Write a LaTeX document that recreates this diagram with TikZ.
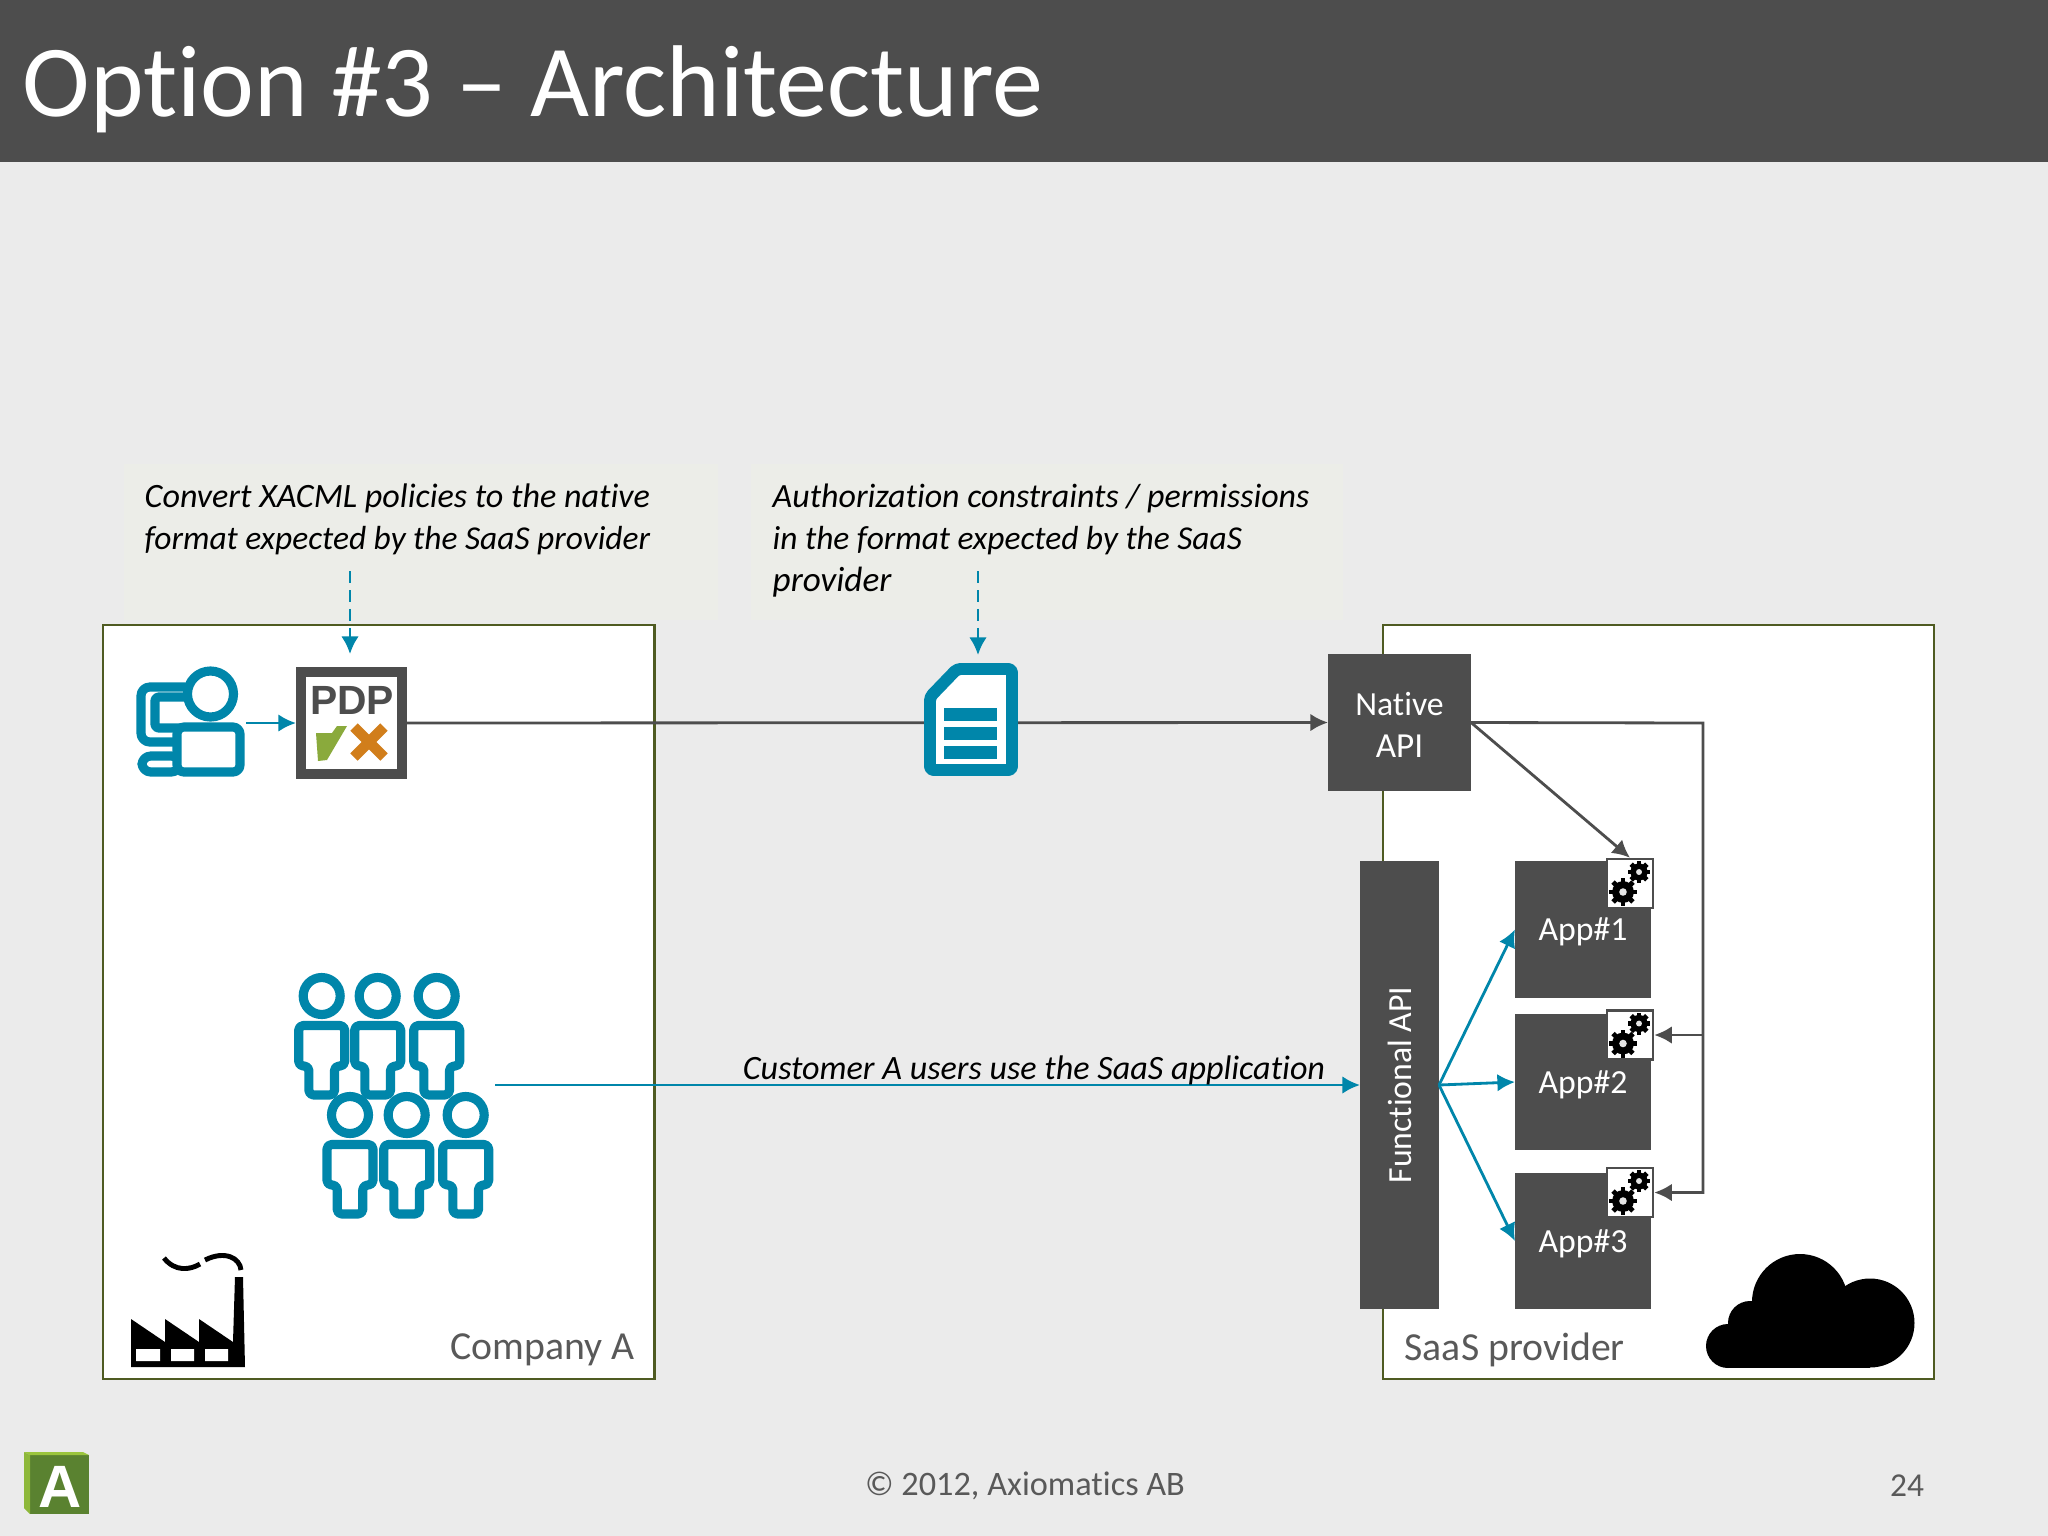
\documentclass[tikz,border=0pt]{standalone}
\usepackage{fontspec}
\setmainfont[Ligatures=NoCommon]{Carlito}
\newfontfamily\pdpfont{Liberation Sans}
\usetikzlibrary{arrows.meta}
\definecolor{slidebg}{HTML}{EBEBEB}
\definecolor{notebg}{HTML}{ECEDE8}
\definecolor{darkbar}{HTML}{4D4D4D}
\definecolor{boxline}{HTML}{4F5B22}
\definecolor{iconblue}{HTML}{0086AA}
\definecolor{labelgrey}{HTML}{595959}
\definecolor{pdpcheck}{HTML}{8AAA3C}
\definecolor{pdpcross}{HTML}{D17E1B}
\definecolor{logodark}{HTML}{5A8230}
\definecolor{logolight}{HTML}{9BC53D}
\newcommand{\txt}[2]{\fontsize{#1}{#2}\selectfont}
\newcommand{\boxtxt}[1]{\raisebox{-0.7pt}[\height][\depth]{#1}}
\tikzset{
  darkbox/.style={fill=darkbar, text=white, inner sep=0, outer sep=0, align=center},
  cogbox/.style={draw=darkbar, fill=white, line width=0.7pt, inner sep=0, minimum width=0.46cm, minimum height=0.49cm},
  wire/.style={draw=darkbar, line width=0.8pt, -{Latex[length=5pt,width=5pt]}},
  bluewire/.style={draw=iconblue, line width=0.8pt, -{Latex[length=5pt,width=5pt]}},
  icon/.style={draw=iconblue, fill=white, line width=2.6pt, line join=round},
  person/.pic={
    \draw[icon] (0,0) circle (18.5);
    \draw[icon, rounded corners=1.3pt] (-23,29.5)--(23,29.5)--(23,70)--(12.8,70)--(12.8,99)--(-12.8,99)--(-12.8,70)--(-23,70)--cycle;
  },
  cogwheel/.pic={
    \foreach \a in {0,45,...,315} \draw[black, line width=1.4pt, rotate=\a] (0,0)--(#1,0);
    \fill[black] (0,0) circle ({#1*0.78});
    \fill[white!80!gray] (0,0) circle ({#1*0.27});
  },
}
\begin{document}
\begin{tikzpicture}[x=0.01cm, y=-0.01cm]
\useasboundingbox (0,0) rectangle (2048,1536);
\fill[slidebg] (0,0) rectangle (2048,1536);
\fill[darkbar] (0,0) rectangle (2048,162);
\node[anchor=west, text=white, inner sep=0] (title) at (22,89) {\txt{29}{33}Option \#3 – Architecture};

% notes above the boxes
\fill[notebg] (124,464) rectangle (718,620);
\fill[notebg] (751,464) rectangle (1343,620);
\node[anchor=north west, align=left, inner sep=0] (note1) at (144,483) {\txt{9.7}{11.6}\itshape Convert XACML policies to the native\\\txt{9.5}{11.6}\itshape format expected by the SaaS provider};
\node[anchor=north west, align=left, inner sep=0] (note2) at (772,483) {\txt{9.65}{11.6}\itshape Authorization constraints / permissions\\\txt{9.5}{11.6}\itshape in the format expected by the SaaS\\\itshape provider};

% the two boxes
\draw[boxline, fill=white, line width=0.8pt] (103,625) rectangle (654.5,1379);
\draw[boxline, fill=white, line width=0.8pt] (1383,625) rectangle (1934,1379);
\node[anchor=east, text=labelgrey, inner sep=0] (company) at (635,1350) {\txt{11.3}{13}Company A};
\node[anchor=west, text=labelgrey, inner sep=0] (saas) at (1404,1350) {\txt{11.3}{13}SaaS provider};

% saas side
\node[darkbox, minimum width=1.43cm, minimum height=1.37cm] (native) at (1399.5,722.5) {\txt{9.6}{11.7}\boxtxt{Native}\\\boxtxt{API}};
\node[darkbox, minimum width=0.79cm, minimum height=4.48cm] (funcapi) at (1399.5,1085) {};
\node[darkbox, rotate=90] (funclabel) at (1400,1085) {\txt{9.6}{11.7}Functional API};
\foreach \n/\y/\h in {1/929.5/1.37,2/1082/1.36,3/1241/1.36}
  \node[darkbox, minimum width=1.36cm, minimum height=\h cm] (app\n) at (1583,\y) {\txt{9.6}{11.7}\boxtxt{App\#\n}};
\foreach \n/\y in {1/883.5,2/1035,3/1192.5} {
  \node[cogbox] (cog\n) at (1630,\y) {};
  \pic at (1623,\y+8.5) {cogwheel=14};
  \pic at (1639,\y-11.5) {cogwheel=11};
}

% connectors
\coordinate (bus) at (1703,723);
\draw[wire] (native.east)--(cog1.north);
\draw[wire] (native.east)--(bus) |- (cog3.east);
\draw[wire] (bus |- cog2.east)--(cog2.east);
\foreach \n in {1,2,3} \draw[bluewire] (funcapi.east)--(app\n.west);

% pdp and the main line
\node[draw=darkbar, fill=white, line width=2.85pt, inner sep=0, minimum size=1.01cm] (pdp) at (351.5,723) {};
\node[text=darkbar, inner sep=0] (pdplabel) at (352,700) {\pdpfont\bfseries\txt{11.6}{13}PDP};
\fill[pdpcheck] (316,733)--(332,733)--(337,726)--(347,726)--(327,760)--(318,761)--cycle;
\draw[pdpcross, line width=3pt] (354,727)--(384,757);
\draw[pdpcross, line width=3pt] (384,727)--(354,757);
\draw[wire] (pdp.east)--(native.west);

% dashed arrows
\coordinate (polfrom) at (350,571);
\coordinate (polto) at (350,654);
\coordinate (docfrom) at (978,571);
\coordinate (docto) at (978,655);
\draw[bluewire, dash pattern=on 3.4pt off 2pt] (polfrom)--(polto);
\draw[bluewire, dash pattern=on 3.4pt off 2pt] (docfrom)--(docto);

% admin icon
\coordinate (adminfrom) at (246,723);
\draw[icon, fill=none, rounded corners=2.5pt] (185,687)--(141,687)--(141,742)--(180,742);
\draw[icon, fill=none, rounded corners=1pt] (185,697)--(155,697)--(155,728)--(180,728);
\draw[icon, rounded corners=2.5pt] (180,756) rectangle (142,772);
\draw[icon] (210.5,694) circle (23);
\draw[icon, rounded corners=2pt] (177,772)--(177,727)--(240,727)--(240,772)--cycle;
\draw[bluewire] (adminfrom)--(pdp.west);

% document icon
\draw[icon, line width=3.4pt, rounded corners=1pt] (930,697)--(957,669)--(1012,669)--(1012,770)--(930,770)--cycle;
\foreach \y in {708,727,746} \fill[iconblue] (944,\y) rectangle (997,\y+12.5);

% users
\foreach \x in {321.7,377.7,436.7} \pic at (\x,996) {person};
\foreach \x in {350,406.7,465.7} \pic at (\x,1115) {person};
\coordinate (usersfrom) at (495,1085);
\draw[bluewire] (usersfrom)--(funcapi.west);
\node[inner sep=0] (userlabel) at (1034,1070) {\txt{9.7}{11.7}\itshape Customer A users use the SaaS application};

% factory
\fill[black] (131,1367)--(131,1319)--(165,1342)--(165,1319)--(199,1342)--(199,1319)--(233,1342)--(235,1277)--(243,1277)--(245,1367)--cycle;
\fill[white] (136,1349) rectangle (160,1361) (171,1349) rectangle (194,1361) (205,1349) rectangle (228,1361);
\draw[black, line width=1.4pt] (164,1258) .. controls (175,1272) and (190,1270) .. (200,1264);
\draw[black, line width=1.4pt] (205,1260) .. controls (225,1250) and (240,1258) .. (241,1270);

% cloud
\foreach \x/\y/\r in {1800/1302/48, 1870/1323/44.5, 1728/1346/22, 1750/1323/22} \fill[black] (\x,\y) circle (\r);
\fill[black] (1728,1323) rectangle (1870,1368);

% logo
\fill[logodark] (30,1455) rectangle (89,1514);
\fill[logolight] (24,1452)--(83,1452)--(89,1455)--(30,1455)--cycle;
\fill[logolight!80!logodark] (24,1452)--(30,1455)--(30,1514)--(24,1508)--cycle;
\node[text=white, inner sep=0] (logoa) at (60,1487) {\pdpfont\bfseries\txt{17}{20}A};

% footer
\node[text=labelgrey, inner sep=0] (copyright) at (1025,1486) {\txt{9.75}{11}© 2012, Axiomatics AB};
\node[text=labelgrey, inner sep=0] (pagenum) at (1907,1486) {\txt{9.5}{11}24};
\end{tikzpicture}
\end{document}
